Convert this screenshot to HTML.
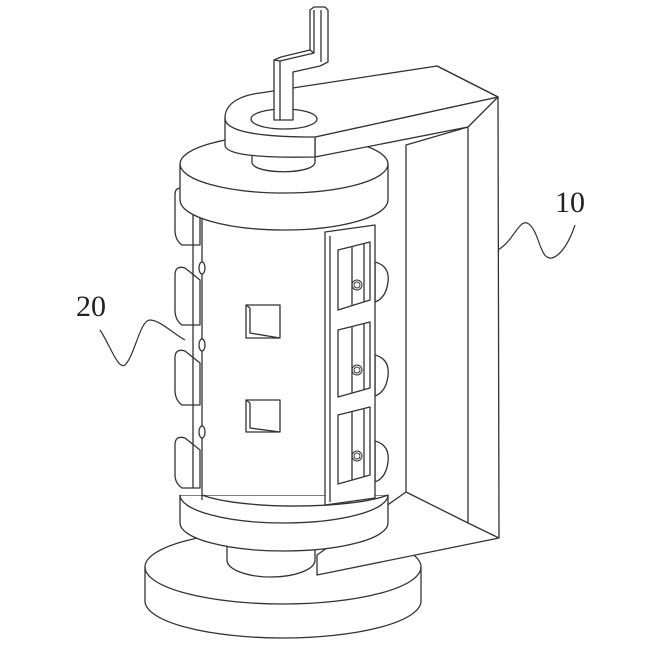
<!DOCTYPE html>
<html><head><meta charset="utf-8"><style>
html,body{margin:0;padding:0;background:#fff;}
svg{display:block;}
text{font-family:"Liberation Serif",serif;font-size:30px;fill:#222;}
</style></head><body>
<svg width="669" height="646" viewBox="0 0 669 646" xmlns="http://www.w3.org/2000/svg">
<g fill="#fff" stroke="#333" stroke-width="1.3" stroke-linejoin="round">
<!-- base disc -->
<path d="M145,567 L145,601 A138,37 0 0 0 421,601 L421,567 A138,37 0 0 0 145,567 Z"/>
<path d="M145,567 A138,37 0 0 0 421,567" fill="none"/>
<!-- frame -->
<path d="M437,66 L498,97 L499,538 L317,575 L317,555 L406,492 L406,145 L468,127 Z"/>
<path d="M468,127 L468,523 L406,492" fill="none"/>
<path d="M468,523 L499,538" fill="none"/>
<!-- neck below -->
<path d="M227,540 L227,560 A44,17 0 0 0 315,560 L315,540 Z"/>
<!-- bottom ring -->
<path d="M180,495 L180,523 A104,28 0 0 0 388,523 L388,495 Z"/>
<path d="M180,495 A104,28 0 0 0 388,495" fill="none"/>
<!-- body -->
<rect x="180" y="200" width="208" height="295" stroke="none"/>
<line x1="202" y1="215" x2="202" y2="500"/>
<path d="M202,495 A104,20 0 0 0 388,495" fill="none"/>
<!-- left lugs -->
<g>
<path d="M175,195 Q175,185 185,190 L200,200 L200,245 L182,245 Q175,240 175,230 Z"/>
<path d="M175,275 Q175,265 185,268 L200,280 L200,325 L182,325 Q175,320 175,310 Z"/>
<path d="M175,358 Q175,348 185,351 L200,363 L200,405 L182,405 Q175,400 175,390 Z"/>
<path d="M175,445 Q175,435 185,438 L200,450 L200,488 L182,488 Q175,483 175,475 Z"/>
<line x1="193" y1="200" x2="193" y2="488"/>
<ellipse cx="202" cy="268" rx="3" ry="6"/>
<ellipse cx="202" cy="345" rx="3" ry="6"/>
<ellipse cx="202" cy="432" rx="3" ry="6"/>
</g>
<!-- windows -->
<rect x="246" y="305" width="34" height="33"/>
<path d="M250,308 L250,333 L280,338 M246,305 L250,308" fill="none"/>
<rect x="246" y="400" width="34" height="32"/>
<path d="M250,403 L250,428 L280,432 M246,400 L250,403" fill="none"/>
<!-- right rings -->
<path d="M375,262 Q390,266 388,282 Q386,298 375,302 Z"/>
<path d="M375,355 Q390,359 388,376 Q386,392 375,396 Z"/>
<path d="M375,441 Q390,445 388,462 Q386,478 375,482 Z"/>
<!-- door -->
<path d="M325,232 L375,225 L375,498 L325,505 Z"/>
<path d="M330,236 L330,502" fill="none"/>
<path d="M338,250 L370,242 L370,300 L338,310 Z"/>
<path d="M338,330 L370,322 L370,388 L338,397 Z"/>
<path d="M338,415 L370,407 L370,475 L338,484 Z"/>
<line x1="352" y1="247" x2="352" y2="306"/>
<line x1="352" y1="327" x2="352" y2="393"/>
<line x1="352" y1="412" x2="352" y2="480"/>
<line x1="364" y1="244" x2="364" y2="302"/>
<line x1="364" y1="324" x2="364" y2="390"/>
<line x1="364" y1="409" x2="364" y2="477"/>
<g fill="none" stroke-width="1">
<circle cx="357" cy="285" r="5"/><circle cx="357" cy="285" r="3"/>
<circle cx="357" cy="370" r="5"/><circle cx="357" cy="370" r="3"/>
<circle cx="357" cy="456" r="5"/><circle cx="357" cy="456" r="3"/>
</g>
<!-- cap -->
<path d="M180,164 L180,200 A104,30 0 0 0 388,200 L388,164 Z"/>
<ellipse cx="284" cy="164" rx="104" ry="29"/>
<!-- neck under collar -->
<path d="M252,150 L252,162 C252,175 315,175 315,162 L315,150 Z"/>
<!-- arm front face -->
<path d="M315,137 L498,97 L468,127 L315,157 Z"/>
<!-- collar side -->
<path d="M225,118 L225,145 C225,155 260,158 315,157 L315,137 Z"/>
<!-- arm top face -->
<path d="M260,93 L437,66 L498,97 L315,137 C260,137 225,132 225,118 C225,102 243,95 260,93 Z"/>
<ellipse cx="284" cy="119" rx="33" ry="10"/>
<!-- crank -->
<path d="M274,120 L274,60 L281,57 L310,50 L310,10 L314,7 L325,7 L328,10 L328,62 L320,66 L293,72 L293,120 Z"/>
<path d="M280,120 L280,61 L314,53 L314,10 M321,10 L321,62 M274,60 L280,61 M310,50 L314,53" fill="none"/>
</g>
<!-- leaders -->
<g fill="none" stroke="#333" stroke-width="1.2">
<path d="M498,250 C515,240 520,215 530,225 C540,235 540,260 552,258 C562,255 570,240 575,225"/>
<path d="M100,330 C110,345 118,370 125,365 C135,355 140,320 150,320 C160,320 175,335 185,340"/>
</g>
<text x="555" y="212">10</text>
<text x="76" y="316">20</text>
</svg>
</body></html>
